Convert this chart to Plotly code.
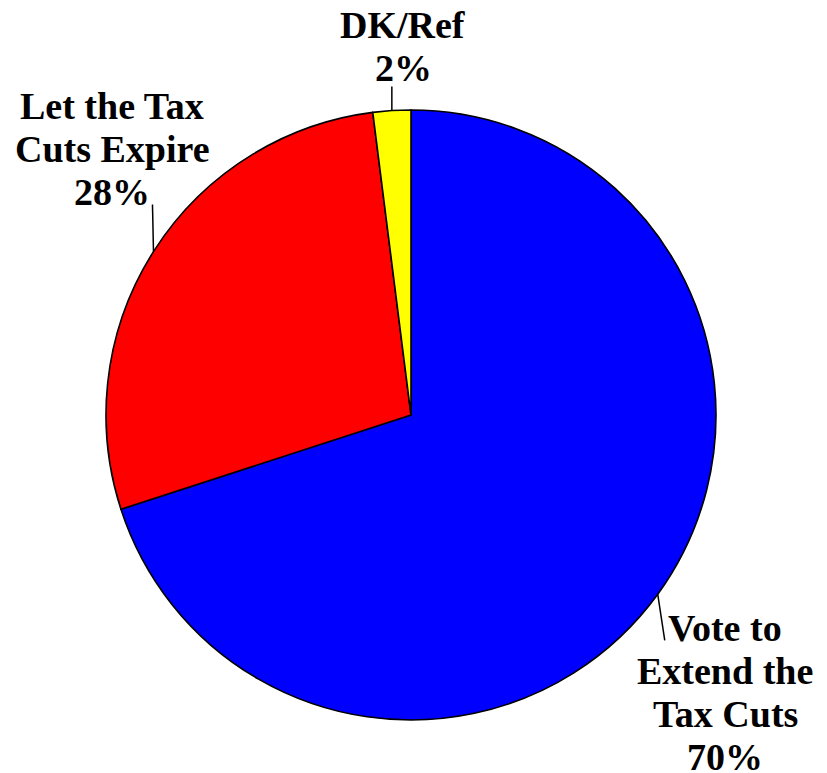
import math
import plotly.graph_objects as go

# ---- data ----
categories = ["Vote to Extend the Tax Cuts", "Let the Tax Cuts Expire", "DK/Ref"]
values = [70, 28, 2]
label_lines = [
    ["Vote to", "Extend the", "Tax Cuts", "70%"],
    ["Let the Tax", "Cuts Expire", "28%"],
    ["DK/Ref", "2%"],
]
colors = ["#0000FF", "#FF0000", "#FFFF00"]

# ---- layout / style ----
W, H = 827, 773
OFF = 8                              # page body margin compensation
CX, CY, R = 411 - OFF, 415 - OFF, 305   # pie centre and radius in pixels
FONT = "Liberation Serif, Times New Roman, serif"
FS = 38
LINE_H = 43
# label first-line centre (pixels) and leader line end offset (pixels)
label_pos = [(725 - OFF, 628 - OFF), (112 - OFF, 106 - OFF), (403 - OFF, 25 - OFF)]
leader_offset = [(7, 46), (-1, -47), (0, -24)]

fig = go.Figure(go.Pie(
    labels=categories,
    values=values,
    marker=dict(colors=colors, line=dict(color="black", width=1.6)),
    sort=False,
    direction="clockwise",
    rotation=0,
    textinfo="none",
    hoverinfo="label+percent",
    showlegend=False,
    domain=dict(x=[(CX - R) / W, (CX + R) / W],
                y=[1 - (CY + R) / H, 1 - (CY - R) / H]),
))

def px2paper(x, y):
    return x / W, 1 - y / H

annotations = []
shapes = []
total = sum(values)
cum = 0
for i, v in enumerate(values):
    mid = (cum + v / 2) / total * 2 * math.pi
    cum += v
    sx = CX + R * math.sin(mid)
    sy = CY - R * math.cos(mid)
    ex = sx + leader_offset[i][0]
    ey = sy + leader_offset[i][1]
    x0, y0 = px2paper(sx, sy)
    x1, y1 = px2paper(ex, ey)
    shapes.append(dict(type="line", xref="paper", yref="paper",
                       x0=x0, y0=y0, x1=x1, y1=y1,
                       line=dict(color="black", width=1.5)))
    lx, ly = label_pos[i]
    for j, t in enumerate(label_lines[i]):
        ax_, ay_ = px2paper(lx, ly + j * LINE_H)
        annotations.append(dict(text="<b>%s</b>" % t, x=ax_, y=ay_,
                                xref="paper", yref="paper",
                                xanchor="center", yanchor="middle",
                                showarrow=False,
                                font=dict(family=FONT, size=FS, color="black")))

fig.update_layout(
    width=W, height=H,
    margin=dict(l=0, r=0, t=0, b=0),
    paper_bgcolor="white",
    plot_bgcolor="white",
    annotations=annotations,
    shapes=shapes,
)

fig.write_html("out.html")
